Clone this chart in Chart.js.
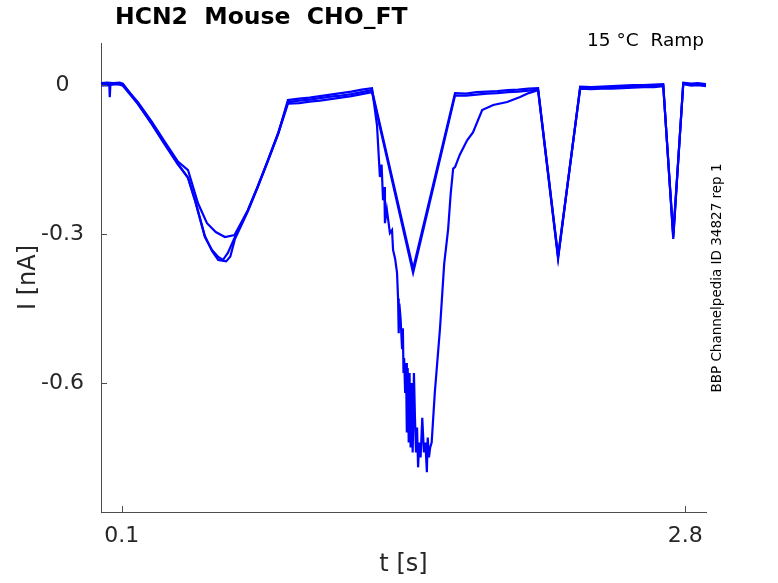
<!DOCTYPE html>
<html>
<head>
<meta charset="utf-8">
<script src="https://cdn.jsdelivr.net/npm/chart.js@4.4.0/dist/chart.umd.min.js"></script>
<style>
    html, body { margin: 0; padding: 0; background: #fff; }
    #wrap { width: 778px; height: 583px; }
</style>
</head>
<body>
<div id="wrap"><canvas id="Chart1"></canvas></div>
<script>
// tick positions and labels
const xTicks = [0.1, 2.8];
const yTicks = [-0.6, -0.3, 0];

// sweep 1: shallower first trough, clean second ramp
const sweep1Time = [0, 0.03, 0.06, 0.09, 0.105, 0.177, 0.244, 0.306, 0.369, 0.417, 0.465, 0.508, 0.55, 0.594, 0.64, 0.704, 0.75, 0.8, 0.85, 0.896,
    0.95, 1.0, 1.05, 1.1, 1.15, 1.2, 1.25, 1.299, 1.496, 1.697, 1.75, 1.8, 1.85, 1.9, 1.95, 2.0, 2.05, 2.095, 2.191, 2.297,
    2.35, 2.4, 2.45, 2.5, 2.55, 2.6, 2.65, 2.695, 2.743, 2.791, 2.83, 2.86, 2.9];
const sweep1Current = [0.002, 0.003, 0.002, 0.003, 0.001, -0.034, -0.074, -0.114, -0.154, -0.171, -0.238, -0.278, -0.296, -0.306, -0.302, -0.252, -0.205, -0.151, -0.095, -0.034,
    -0.031, -0.029, -0.026, -0.023, -0.021, -0.018, -0.014, -0.01, -0.37, -0.016, -0.017, -0.014, -0.013, -0.012, -0.01, -0.009, -0.007, -0.006, -0.346, -0.004,
    -0.006, -0.005, -0.004, -0.003, -0.003, -0.002, -0.001, 0.0, -0.306, 0.004, 0.001, 0.002, 0.0];

// sweep 2: deep first trough, clean second ramp, small glitch at the start
const sweep2Time = [0, 0.03, 0.04, 0.042, 0.045, 0.06, 0.09, 0.105, 0.177, 0.244, 0.306, 0.369, 0.417, 0.45, 0.498, 0.532, 0.562, 0.585, 0.608, 0.642,
    0.704, 0.75, 0.8, 0.85, 0.896, 0.95, 1.0, 1.05, 1.1, 1.15, 1.2, 1.25, 1.299, 1.496, 1.697, 1.75, 1.8, 1.85, 1.9, 1.95,
    2.0, 2.05, 2.095, 2.191, 2.297, 2.35, 2.4, 2.45, 2.5, 2.55, 2.6, 2.65, 2.695, 2.743, 2.791, 2.83, 2.86, 2.9];
const sweep2Current = [-0.001, 0.0, -0.001, -0.024, 0.0, 0.002, 0.001, -0.001, -0.038, -0.078, -0.118, -0.158, -0.187, -0.232, -0.306, -0.332, -0.346, -0.352, -0.338, -0.306,
    -0.252, -0.206, -0.152, -0.097, -0.037, -0.036, -0.033, -0.031, -0.028, -0.025, -0.022, -0.018, -0.014, -0.378, -0.021, -0.021, -0.019, -0.017, -0.016, -0.014,
    -0.013, -0.011, -0.009, -0.344, -0.007, -0.008, -0.007, -0.007, -0.006, -0.005, -0.004, -0.004, -0.002, -0.3, 0.002, -0.001, 0.0, -0.002];

// sweep 3: deep first trough, noisy large second trough with slow recovery
const sweep3Time = [0, 0.03, 0.06, 0.09, 0.105, 0.177, 0.244, 0.306, 0.369, 0.417, 0.45, 0.498, 0.532, 0.562, 0.6, 0.62, 0.642, 0.704, 0.75, 0.8,
    0.85, 0.896, 0.95, 1.0, 1.05, 1.1, 1.15, 1.2, 1.25, 1.299, 1.323, 1.337, 1.345, 1.352, 1.358, 1.361, 1.37, 1.385, 1.395, 1.4,
    1.41, 1.419, 1.424, 1.427, 1.43, 1.436, 1.443, 1.447, 1.45, 1.453, 1.458, 1.462, 1.466, 1.47, 1.475, 1.479, 1.484, 1.489, 1.494, 1.5,
    1.505, 1.51, 1.515, 1.52, 1.525, 1.532, 1.54, 1.548, 1.555, 1.562, 1.566, 1.572, 1.578, 1.585, 1.6, 1.625, 1.645, 1.664, 1.676, 1.688,
    1.697, 1.72, 1.755, 1.783, 1.827, 1.88, 1.947, 2.009, 2.05, 2.095, 2.191, 2.297, 2.35, 2.4, 2.45, 2.5, 2.55, 2.6, 2.65, 2.695,
    2.743, 2.791, 2.83, 2.86, 2.9];
const sweep3Current = [0.004, 0.005, 0.004, 0.005, 0.003, -0.037, -0.079, -0.12, -0.16, -0.186, -0.23, -0.304, -0.334, -0.352, -0.355, -0.345, -0.31, -0.254, -0.207, -0.153,
    -0.097, -0.03, -0.027, -0.025, -0.022, -0.019, -0.016, -0.013, -0.009, -0.006, -0.081, -0.185, -0.16, -0.232, -0.205, -0.278, -0.25, -0.298, -0.292, -0.332,
    -0.35, -0.378, -0.43, -0.5, -0.44, -0.47, -0.53, -0.49, -0.58, -0.55, -0.62, -0.56, -0.7, -0.57, -0.72, -0.58, -0.73, -0.6, -0.74, -0.58,
    -0.67, -0.74, -0.69, -0.77, -0.72, -0.75, -0.67, -0.74, -0.72, -0.78, -0.71, -0.75, -0.73, -0.72, -0.62, -0.49, -0.36, -0.29, -0.22, -0.168,
    -0.165, -0.14, -0.111, -0.095, -0.05, -0.04, -0.034, -0.024, -0.016, -0.01, -0.35, -0.003, -0.004, -0.003, -0.002, -0.001, 0.0, 0.0, 0.001, 0.002,
    -0.31, 0.005, 0.003, 0.004, 0.002];

const traceColor = 'rgb(0, 0, 255)';
const axisColor = '#4d4d4d';
const textColor = '#262626';

function toPoints(times, currents) {
    return times.map((t, i) => ({ x: t, y: currents[i] }));
}

const sweeps = [
    toPoints(sweep1Time, sweep1Current),
    toPoints(sweep2Time, sweep2Current),
    toPoints(sweep3Time, sweep3Current)
];

// inward ticks + free text (title, condition, id)
const extras = {
    id: 'extras',
    afterDraw(chart) {
        const { ctx, chartArea, scales: { x, y } } = chart;
        ctx.save();
        ctx.strokeStyle = axisColor;
        ctx.lineWidth = 1;
        ctx.beginPath();
        x.ticks.forEach(t => {
            const px = Math.round(x.getPixelForValue(t.value)) + 0.5;
            ctx.moveTo(px, chartArea.bottom);
            ctx.lineTo(px, chartArea.bottom - 6);
        });
        y.ticks.forEach(t => {
            const py = Math.round(y.getPixelForValue(t.value)) + 0.5;
            ctx.moveTo(chartArea.left, py);
            ctx.lineTo(chartArea.left + 6, py);
        });
        ctx.stroke();

        ctx.fillStyle = '#000';
        ctx.textBaseline = 'middle';
        ctx.textAlign = 'left';
        ctx.font = 'bold 23.5px "DejaVu Sans"';
        ctx.fillText('HCN2  Mouse  CHO_FT', 115, 18);

        ctx.font = '18.5px "DejaVu Sans"';
        ctx.textAlign = 'right';
        ctx.fillText('15 °C  Ramp', 704, 41);

        ctx.font = '13.5px "DejaVu Sans"';
        ctx.textAlign = 'center';
        ctx.translate(717, 278);
        ctx.rotate(-Math.PI / 2);
        ctx.fillText('BBP Channelpedia ID 34827 rep 1', 0, 0);
        ctx.restore();
    }
};

new Chart(document.getElementById('Chart1').getContext('2d'), {
    type: 'scatter',
    data: {
        datasets: sweeps.map(pts => ({
            data: pts,
            showLine: true,
            borderColor: traceColor,
            backgroundColor: traceColor,
            borderWidth: 2.2,
            pointRadius: 0,
            tension: 0
        }))
    },
    options: {
        responsive: true,
        maintainAspectRatio: false,
        animation: false,
        layout: { padding: { left: 0, right: 72, top: 43, bottom: 0 } },
        plugins: {
            legend: { display: false },
            tooltip: { enabled: false }
        },
        scales: {
            x: {
                type: 'linear',
                min: 0,
                max: 2.9,
                afterBuildTicks: s => { s.ticks = xTicks.map(v => ({ value: v })); },
                afterFit: s => { s.height = 71; },
                grid: { display: false, drawTicks: false },
                border: { display: true, color: axisColor, width: 1 },
                ticks: {
                    color: textColor,
                    font: { family: 'DejaVu Sans', size: 22 },
                    padding: 11,
                    maxRotation: 0,
                    callback: v => v.toString()
                },
                title: {
                    display: true,
                    text: 't [s]',
                    color: textColor,
                    font: { family: 'DejaVu Sans', size: 24 },
                    padding: { top: 2, bottom: 4 }
                }
            },
            y: {
                type: 'linear',
                min: -0.86,
                max: 0.085,
                afterBuildTicks: s => { s.ticks = yTicks.map(v => ({ value: v })); },
                afterFit: s => { s.width = 101; },
                grid: { display: false, drawTicks: false },
                border: { display: true, color: axisColor, width: 1 },
                ticks: {
                    color: textColor,
                    font: { family: 'DejaVu Sans', size: 22 },
                    padding: 17,
                    crossAlign: 'center',
                    callback: v => v.toString()
                },
                title: {
                    display: true,
                    text: 'I [nA]',
                    color: textColor,
                    font: { family: 'DejaVu Sans', size: 24 },
                    padding: { top: 14, bottom: 0 }
                }
            }
        }
    },
    plugins: [extras]
});
</script>
</body>
</html>
